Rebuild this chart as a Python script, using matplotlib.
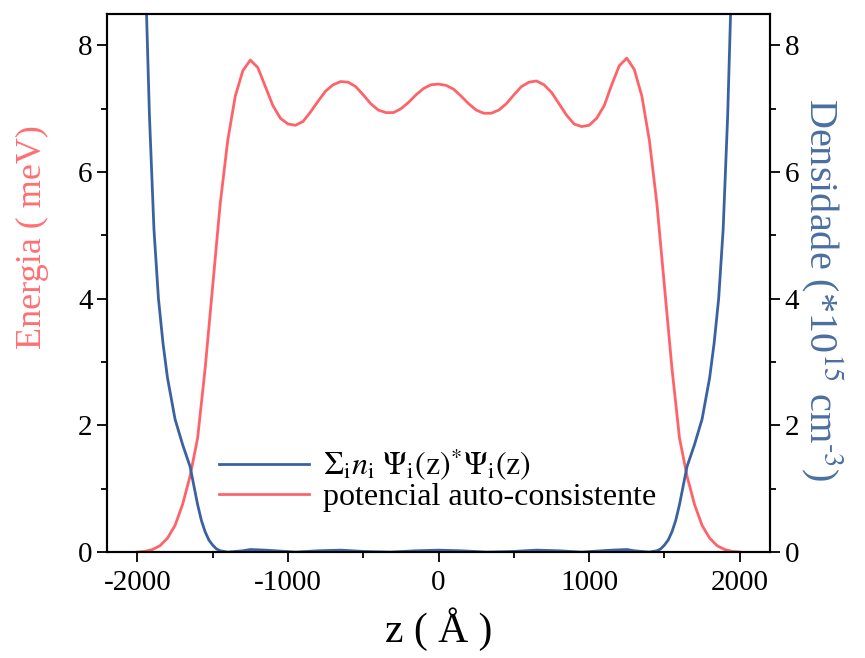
import matplotlib
matplotlib.use("Agg")
import matplotlib.pyplot as plt
from matplotlib.ticker import MultipleLocator

plt.rcParams["font.family"] = ["Liberation Serif", "DejaVu Serif"]
plt.rcParams["mathtext.fontset"] = "stix"
plt.rcParams["axes.unicode_minus"] = False

RED = "#ff636a"
BLUE = "#3a62a0"

# self-consistent potential (meV) vs z (Angstrom)
z_pot = [-2000, -1950, -1900, -1850, -1800, -1750, -1700, -1650, -1600, -1550,
         -1500, -1450, -1400, -1350, -1300, -1250, -1200, -1150, -1100, -1050,
         -1000, -950, -900, -850, -800, -750, -700, -650, -600, -550,
         -500, -450, -400, -350, -300, -250, -200, -150, -100, -50,
         0, 50, 100, 150, 200, 250, 300, 350, 400, 450,
         500, 550, 600, 650, 700, 750, 800, 850, 900, 950,
         1000, 1050, 1100, 1150, 1200, 1250, 1300, 1350, 1400, 1450,
         1500, 1550, 1600, 1650, 1700, 1750, 1800, 1850, 1900, 1950, 2000]
e_pot = [0.0, 0.01, 0.04, 0.10, 0.22, 0.42, 0.75, 1.20, 1.80, 2.90,
         4.20, 5.50, 6.50, 7.20, 7.60, 7.77, 7.65, 7.35, 7.05, 6.85,
         6.76, 6.74, 6.80, 6.95, 7.12, 7.28, 7.38, 7.43, 7.42, 7.35,
         7.22, 7.08, 6.98, 6.94, 6.94, 7.00, 7.10, 7.22, 7.32, 7.38,
         7.39, 7.37, 7.31, 7.20, 7.08, 6.98, 6.93, 6.93, 6.98, 7.08,
         7.22, 7.35, 7.42, 7.44, 7.38, 7.26, 7.08, 6.90, 6.76, 6.72,
         6.74, 6.85, 7.05, 7.38, 7.68, 7.80, 7.62, 7.20, 6.50, 5.50,
         4.20, 2.90, 1.80, 1.20, 0.75, 0.42, 0.22, 0.10, 0.04, 0.01, 0.0]

# electron density (1e15 cm^-3) vs z
z_dens = [-1980, -1950, -1920, -1890, -1860, -1830, -1800, -1750, -1700, -1650,
          -1625, -1600, -1575, -1550, -1525, -1500, -1475, -1450, -1400, -1300,
          -1250, -1150, -950, -800, -650, -500, -320, -150, 0, 150,
          320, 500, 650, 800, 950, 1150, 1250, 1300, 1400, 1450,
          1475, 1500, 1525, 1550, 1575, 1600, 1625, 1650, 1700, 1750,
          1800, 1830, 1860, 1890, 1920, 1950, 1980]
n_dens = [12.5, 9.4, 6.9, 5.1, 4.0, 3.3, 2.75, 2.1, 1.7, 1.35,
          1.05, 0.75, 0.50, 0.32, 0.19, 0.11, 0.05, 0.02, 0.0, 0.02,
          0.04, 0.03, 0.0, 0.02, 0.03, 0.01, 0.0, 0.02, 0.03, 0.02,
          0.0, 0.01, 0.03, 0.02, 0.0, 0.03, 0.04, 0.02, 0.0, 0.02,
          0.05, 0.11, 0.19, 0.32, 0.50, 0.75, 1.05, 1.35, 1.7, 2.1,
          2.75, 3.3, 4.0, 5.1, 6.9, 9.4, 12.5]

fig, ax1 = plt.subplots(figsize=(8.65, 6.58), dpi=100)
fig.subplots_adjust(left=0.124, right=0.89, bottom=0.161, top=0.979)

ax2 = ax1.twinx()

ax1.plot(z_pot, e_pot, color=RED, lw=2, label="potencial auto-consistente")
ax2.plot(z_dens, n_dens, color=BLUE, lw=2,
         label=r"$\Sigma_{\rm i}n_{\rm i}\ \Psi_{\rm i}\mathrm{(z)}^{*}\Psi_{\rm i}\mathrm{(z)}$")

for ax in (ax1, ax2):
    ax.set_xlim(-2200, 2200)
    ax.set_ylim(0, 8.5)
    ax.yaxis.set_major_locator(MultipleLocator(2))
    ax.yaxis.set_minor_locator(MultipleLocator(1))
    ax.tick_params(which="major", direction="out", length=7, width=1.3, labelsize=21)
    ax.tick_params(which="minor", direction="out", length=4, width=1.3)
    for s in ax.spines.values():
        s.set_linewidth(1.5)

ax1.xaxis.set_major_locator(MultipleLocator(1000))
ax1.xaxis.set_minor_locator(MultipleLocator(500))
ax1.tick_params(axis="x", pad=6)

ax1.set_xlabel("z ( Å )", fontsize=30, labelpad=8)
ax1.set_ylabel("Energia ( meV)", fontsize=26, color="#ff6f73")
ax1.yaxis.set_label_coords(-0.088, 0.585)
ax2.set_ylabel("Densidade (*10$^{15}$ cm$^{\u20103}$)", fontsize=29, color="#4a6fa0",
               rotation=270, va="center")
ax2.yaxis.set_label_coords(1.08, 0.487)

# legend with blue entry first
h1, l1 = ax1.get_legend_handles_labels()
h2, l2 = ax2.get_legend_handles_labels()
ax2.legend(h2 + h1, l2 + l1, loc="lower left", bbox_to_anchor=(0.15, 0.05),
           frameon=False, fontsize=23, handlelength=2.8, handletextpad=0.45,
           labelspacing=0.0, borderaxespad=0)

fig.savefig("out.png", dpi=100)
